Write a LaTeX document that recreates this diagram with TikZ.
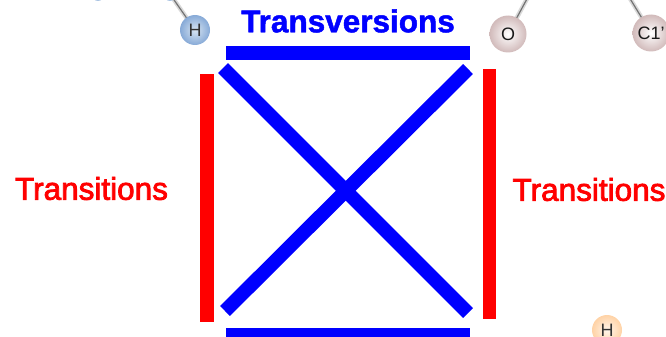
\documentclass[tikz,border=0pt]{standalone}
\usepackage{fontspec}
\setmainfont{Liberation Sans}
\newfontfamily\fatfont[FakeBold=2.5]{Liberation Sans}
\newfontfamily\fatboldfont[FakeBold=1.5]{Liberation Sans Bold}
\definecolor{purered}{RGB}{255,0,0}
\definecolor{pureblue}{RGB}{0,0,255}
\definecolor{hblue}{RGB}{135,170,215}
\definecolor{hpale}{RGB}{215,228,242}
\begin{document}
\begin{tikzpicture}[
    x=1pt, y=-1pt,
    redbar/.style={draw=purered, line width=13.5pt},
    bluebar/.style={draw=pureblue, line width=14pt},
    redlabel/.style={text=purered, font=\fontsize{31.5}{33}\fatfont, inner sep=0pt},
    bluelabel/.style={text=pureblue, font=\fontsize{31.5}{33}\fatboldfont, inner sep=0pt},
    hatom/.style={circle, minimum size=30pt, inner sep=0pt, font=\fontsize{18}{20}\selectfont, text=black!80},
    heavyatom/.style={circle, minimum size=37pt, inner sep=0pt, font=\fontsize{18}{20}\selectfont, text=black!90, inner color=white, outer color=red!20!gray!45},
    bond/.style={draw=black!15, double=black!55, double distance=1.2pt, line width=1.6pt}
]
\useasboundingbox (0,0) rectangle (666,337);
\clip (0,0) rectangle (666,337);

% atoms
\coordinate (b1) at (172,-3);
\coordinate (b2) at (528,-3);
\coordinate (b3) at (629,-3);
\draw[bond] (b1) -- (195,30);
\draw[bond] (b2) -- (508,34);
\draw[bond] (b3) -- (651,33);
\node[hatom, inner color=hpale, outer color=hblue] (h1) at (195,30) {H};
\node[heavyatom] (o1) at (508,34) {O};
\node[heavyatom] (c1) at (651,33) {C1'};
\node[hatom, inner color=orange!8, outer color=orange!35] (h2) at (607,330) {H};
\fill[hblue!70] (98,-5) circle (6);
\fill[hblue!70] (170,-5) circle (6);

% bars
\coordinate (tl) at (226,53);
\coordinate (tr) at (470,53);
\coordinate (bl) at (226,335);
\coordinate (br) at (470,335);
\draw[bluebar] (tl) -- (tr);
\draw[bluebar] (bl) -- (br);
\coordinate (ll1) at (207,74);
\coordinate (ll2) at (207,322);
\coordinate (rl1) at (489.5,69);
\coordinate (rl2) at (489.5,319);
\draw[redbar] (ll1) -- (ll2);
\draw[redbar] (rl1) -- (rl2);

% diagonals
\coordinate (d1) at (223,68);
\coordinate (d2) at (468,313);
\coordinate (d3) at (468,69);
\coordinate (d4) at (225,311);
\draw[bluebar] (d1) -- (d2);
\draw[bluebar] (d3) -- (d4);

% labels
\node[bluelabel] (transversions) at (348,21) {Transversions};
\node[redlabel] (transitionsl) at (91.5,188.5) {Transitions};
\node[redlabel] (transitionsr) at (589,189.5) {Transitions};

\end{tikzpicture}
\end{document}
